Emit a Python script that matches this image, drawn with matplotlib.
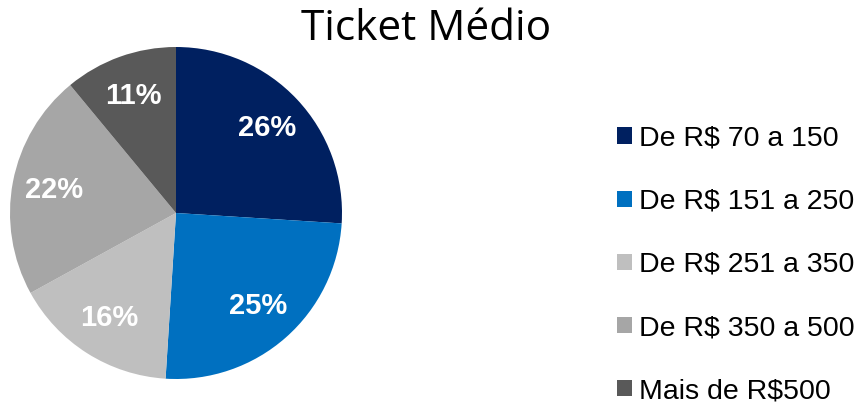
import matplotlib
matplotlib.use('agg')
import matplotlib.pyplot as plt
from matplotlib.patches import Patch

labels = ["De R$ 70 a 150", "De R$ 151 a 250", "De R$ 251 a 350",
          "De R$ 350 a 500", "Mais de R$500"]
shares = [26, 25, 16, 22, 11]
colors = ["#002060", "#0070C0", "#BFBFBF", "#A6A6A6", "#595959"]

fig = plt.figure(figsize=(8.63, 4.03), dpi=100)

# pie occupies a square region on the left
ax = fig.add_axes([10 / 863, 24 / 403, 332 / 863, 332 / 403])
wedges, texts, autotexts = ax.pie(
    shares, colors=colors, startangle=90, counterclock=False,
    autopct=lambda p: "{:.0f}%".format(p), pctdistance=0.75,
    wedgeprops=dict(linewidth=0),
    textprops=dict(color="white", fontsize=21, fontweight="bold",
                   family="Liberation Sans"))
ax.set_xlim(-1, 1)
ax.set_ylim(-1, 1)
ax.set_aspect("equal")
ax.axis("off")

fig.text(426 / 863, 1 - 29 / 403, "Ticket Médio", ha="center", va="center",
         fontsize=30.5, family="Open Sans")

handles = [Patch(facecolor=c, edgecolor="none") for c in colors]
fig.legend(handles, labels, loc="center left",
           bbox_to_anchor=(617 / 863, 1 - 265 / 403),
           frameon=False, prop=dict(family="Liberation Sans", size=20.5),
           labelspacing=1.3, handlelength=0.53, handleheight=0.53,
           handletextpad=0.25, borderaxespad=0, borderpad=0)

fig.savefig("out.png", dpi=100)
